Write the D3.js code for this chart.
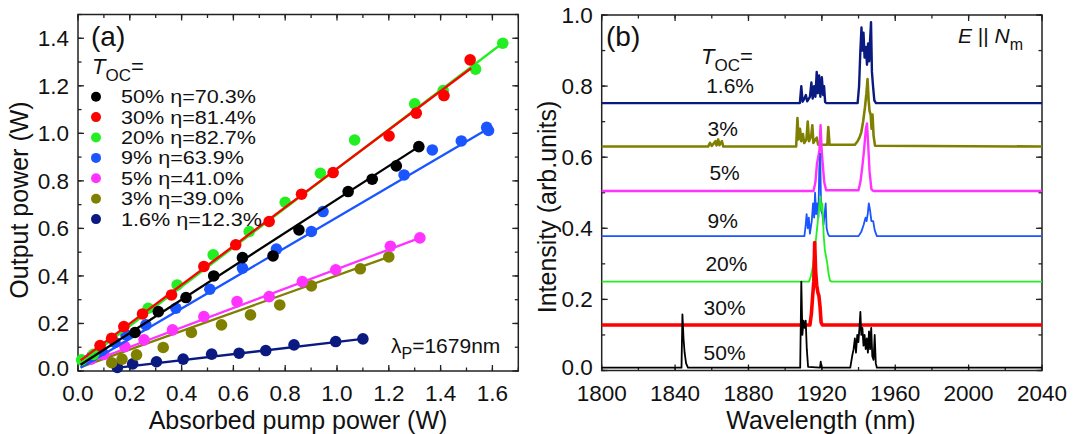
<!DOCTYPE html>
<html>
<head>
<meta charset="utf-8">
<script src="https://cdn.jsdelivr.net/npm/d3@7"></script>
<style>
  html, body { margin: 0; padding: 0; background: #fff; }
  svg { display: block; font-family: "Liberation Sans", Arial, sans-serif; }
</style>
</head>
<body>
<svg id="chart" width="1077" height="434"></svg>
<script>
// ---------------- Panel (a) data ----------------
const seriesNames = ["50%", "30%", "20%", "9%", "5%", "3%", "1.6%"];
const etaLabels = ["70.3%", "81.4%", "82.7%", "63.9%", "41.0%", "39.0%", "12.3%"];
const seriesColors = ["#000000", "#ff0000", "#22ee22", "#1a55ff", "#ff33ff", "#808000", "#0a1a80"];

const pts50 = [[0.22,0.162],[0.31,0.25],[0.417,0.309],[0.524,0.40],[0.635,0.477],[0.753,0.484],[0.853,0.594],[1.043,0.755],[1.136,0.807],[1.229,0.863],[1.316,0.944]];
const pts30 = [[0.085,0.107],[0.130,0.138],[0.177,0.187],[0.249,0.240],[0.361,0.320],[0.486,0.440],[0.609,0.531],[0.738,0.629],[0.863,0.744],[0.985,0.835],[1.201,0.989],[1.306,1.085],[1.413,1.159],[1.514,1.309]];
const pts20 = [[0.014,0.047],[0.06,0.07],[0.271,0.264],[0.383,0.362],[0.522,0.489],[0.661,0.587],[0.80,0.71],[0.936,0.832],[1.068,0.972],[1.300,1.124],[1.41,1.18],[1.535,1.270],[1.640,1.379]];
const pts9 = [[0.053,0.061],[0.091,0.086],[0.143,0.120],[0.185,0.152],[0.262,0.194],[0.378,0.264],[0.509,0.344],[0.635,0.433],[0.766,0.513],[0.901,0.587],[0.946,0.671],[1.259,0.825],[1.368,0.930],[1.480,0.968],[1.578,1.025],[1.585,1.012]];
const pts5 = [[0.05,0.05],[0.10,0.07],[0.181,0.103],[0.255,0.131],[0.365,0.173],[0.486,0.229],[0.614,0.292],[0.738,0.313],[0.866,0.376],[0.995,0.426],[1.206,0.525],[1.32,0.56]];
const pts3 = [[0.13,0.035],[0.17,0.05],[0.226,0.068],[0.329,0.099],[0.438,0.162],[0.554,0.194],[0.666,0.236],[0.779,0.278],[0.901,0.358],[1.09,0.43],[1.20,0.48]];
const pts16 = [[0.152,0.015],[0.211,0.030],[0.303,0.039],[0.406,0.050],[0.516,0.071],[0.622,0.075],[0.725,0.086],[0.834,0.110],[0.995,0.124],[1.10,0.135]];
const pointsA = [pts50, pts30, pts20, pts9, pts5, pts3, pts16];

// fitted line end points [x, y]
const fit50 = [[0.01,0.026],[1.316,0.944]];
const fit30 = [[0.01,0.045],[1.518,1.274]];
const fit20 = [[0.01,0.032],[1.640,1.380]];
const fit9  = [[0.01,0.014],[1.585,1.020]];
const fit5  = [[0.01,0.023],[1.32,0.560]];
const fit3  = [[0.01,0.016],[1.20,0.480]];
const fit16 = [[0.14,0.012],[1.10,0.135]];
const fitsA = [fit50, fit30, fit20, fit9, fit5, fit3, fit16];

const xTicksA = [0.0,0.2,0.4,0.6,0.8,1.0,1.2,1.4,1.6];
const yTicksA = [0.0,0.2,0.4,0.6,0.8,1.0,1.2,1.4];

// ---------------- Panel (b) data ----------------
const specLabels = ["1.6%", "3%", "5%", "9%", "20%", "30%", "50%"];
const specColors = ["#0a1a80", "#808000", "#ff33ff", "#1a55ff", "#22ee22", "#ff0000", "#000000"];
const spec16 = [[1800,0.752],[1908,0.752],[1908.8,0.80],[1909.5,0.756],[1910.5,0.765],[1911.3,0.775],[1912,0.757],[1913.5,0.77],[1914.3,0.81],[1915,0.765],[1915.8,0.80],[1916.5,0.77],[1917.2,0.84],[1917.8,0.78],[1918.5,0.83],[1919.2,0.77],[1920,0.825],[1920.7,0.775],[1921.2,0.80],[1921.8,0.755],[1922.5,0.752],[1939.5,0.752],[1940.3,0.80],[1941,0.90],[1941.6,0.965],[1942.1,0.90],[1942.7,0.95],[1943.3,0.88],[1944,0.91],[1944.6,0.86],[1945.2,0.92],[1945.8,0.87],[1946.3,0.93],[1946.8,0.98],[1947.3,0.84],[1947.9,0.80],[1948.6,0.76],[1949.5,0.752],[2040,0.752]];
const spec3 = [[1800,0.63],[1858,0.63],[1859,0.64],[1860,0.632],[1862,0.645],[1862.6,0.633],[1863.5,0.65],[1864.2,0.634],[1865.5,0.645],[1866.3,0.63],[1906,0.63],[1906.7,0.71],[1907.3,0.65],[1908.1,0.68],[1908.8,0.645],[1909.7,0.665],[1910.4,0.64],[1911.6,0.65],[1912.3,0.70],[1913,0.645],[1914.2,0.66],[1914.8,0.69],[1915.4,0.64],[1916.5,0.65],[1917.2,0.655],[1918,0.635],[1923,0.635],[1923.5,0.685],[1924.2,0.635],[1938,0.635],[1939.5,0.645],[1940.5,0.655],[1941.5,0.67],[1942.5,0.70],[1943.5,0.74],[1944.3,0.78],[1944.9,0.82],[1945.5,0.76],[1946,0.73],[1946.6,0.72],[1947.1,0.68],[1947.6,0.72],[1948.2,0.66],[1949,0.632],[2040,0.63]];
const spec5 = [[1800,0.505],[1915.5,0.505],[1916.5,0.53],[1917.3,0.58],[1918,0.60],[1918.7,0.62],[1919.3,0.69],[1919.9,0.62],[1920.5,0.58],[1921.3,0.53],[1922.3,0.507],[1940,0.507],[1941,0.53],[1942,0.57],[1943,0.62],[1944,0.68],[1944.6,0.695],[1945.3,0.63],[1946,0.56],[1947,0.51],[1948,0.505],[2040,0.505]];
const spec9 = [[1800,0.378],[1910.5,0.378],[1911.2,0.41],[1911.7,0.44],[1912.3,0.40],[1912.9,0.43],[1913.5,0.385],[1914.5,0.42],[1915.2,0.47],[1915.8,0.43],[1916.3,0.50],[1916.9,0.44],[1917.5,0.47],[1918.1,0.43],[1918.6,0.57],[1919.1,0.61],[1919.6,0.45],[1920.3,0.44],[1920.9,0.41],[1921.5,0.44],[1922.1,0.47],[1922.6,0.40],[1923.3,0.385],[1924,0.378],[1940,0.378],[1941.5,0.39],[1942.8,0.41],[1943.8,0.43],[1944.4,0.42],[1945,0.44],[1945.6,0.47],[1946.3,0.45],[1947,0.42],[1948,0.42],[1948.8,0.395],[1950,0.378],[2040,0.378]];
const spec20 = [[1800,0.25],[1913,0.25],[1914,0.265],[1915,0.29],[1916,0.33],[1917,0.38],[1917.8,0.42],[1918.5,0.46],[1919.1,0.49],[1919.7,0.45],[1920.3,0.47],[1921,0.38],[1921.6,0.34],[1922.3,0.32],[1923,0.30],[1923.7,0.27],[1924.5,0.252],[1925.5,0.25],[2040,0.25]];
const spec30 = [[1800,0.128],[1913.5,0.128],[1914.3,0.16],[1915,0.21],[1915.6,0.25],[1916.1,0.36],[1916.6,0.28],[1917.2,0.24],[1917.8,0.22],[1918.4,0.21],[1919,0.18],[1919.6,0.135],[1920.3,0.128],[2040,0.128]];
const spec50 = [[1800,0.008],[1843.5,0.008],[1844,0.158],[1844.6,0.09],[1845.2,0.05],[1846,0.02],[1847,0.008],[1908.2,0.008],[1908.8,0.25],[1909.4,0.10],[1910,0.14],[1910.6,0.12],[1911.2,0.14],[1911.8,0.06],[1912.5,0.01],[1919,0.008],[1919.4,0.025],[1919.8,0.008],[1935.5,0.008],[1936.5,0.04],[1937.3,0.06],[1938,0.09],[1938.6,0.05],[1939.3,0.10],[1939.9,0.08],[1940.5,0.12],[1941,0.165],[1941.5,0.10],[1942.1,0.12],[1942.7,0.07],[1943.3,0.10],[1943.9,0.06],[1944.5,0.09],[1945.1,0.05],[1945.7,0.11],[1946.3,0.06],[1946.9,0.12],[1947.5,0.04],[1948.2,0.03],[1948.8,0.10],[1949.4,0.02],[1950,0.008],[2040,0.008]];
const spectra = [spec16, spec3, spec5, spec9, spec20, spec30, spec50];
// label anchor positions [wavelength, intensity] for the T_OC value labels
const specLabelPos = [[1870,0.78],[1866,0.66],[1867,0.535],[1866,0.402],[1868,0.28],[1867,0.155],[1867,0.03]];
const noiseWidth = [2.4, 2.6, 2.4, 1.8, 1.8, 3.6, 1.8];

const xTicksB = [1800,1840,1880,1920,1960,2000,2040];
const yTicksB = [0.0,0.2,0.4,0.6,0.8,1.0];

// ---------------- Drawing ----------------
const svg = d3.select("#chart");
const axisColor = "#222";

function frame(g, x, y, xMajor, xMinor, yMajor, yMinor, xFmt, yFmt) {
  const [x0, x1] = x.range();
  const [y0, y1] = y.range(); // y0 bottom, y1 top
  const maj = 6, mnr = 3.5;
  const tk = g.append("g").attr("stroke", axisColor).attr("stroke-width", 1.3);
  xMinor.forEach(v => {
    const px = x(v);
    tk.append("line").attr("x1", px).attr("x2", px).attr("y1", y0).attr("y2", y0 - mnr);
    tk.append("line").attr("x1", px).attr("x2", px).attr("y1", y1).attr("y2", y1 + mnr);
  });
  xMajor.forEach(v => {
    const px = x(v);
    tk.append("line").attr("x1", px).attr("x2", px).attr("y1", y0).attr("y2", y0 - maj);
    tk.append("line").attr("x1", px).attr("x2", px).attr("y1", y1).attr("y2", y1 + maj);
  });
  yMinor.forEach(v => {
    const py = y(v);
    tk.append("line").attr("x1", x0).attr("x2", x0 + mnr).attr("y1", py).attr("y2", py);
    tk.append("line").attr("x1", x1).attr("x2", x1 - mnr).attr("y1", py).attr("y2", py);
  });
  yMajor.forEach(v => {
    const py = y(v);
    tk.append("line").attr("x1", x0).attr("x2", x0 + maj).attr("y1", py).attr("y2", py);
    tk.append("line").attr("x1", x1).attr("x2", x1 - maj).attr("y1", py).attr("y2", py);
  });
  g.append("rect").attr("x", x0).attr("y", y1).attr("width", x1 - x0).attr("height", y0 - y1)
    .attr("fill", "none").attr("stroke", axisColor).attr("stroke-width", 1.5);
  const lab = g.append("g").attr("font-size", 22.5).attr("fill", "#111");
  xMajor.forEach(v => {
    lab.append("text").attr("x", x(v)).attr("y", 400.5).attr("text-anchor", "middle").text(xFmt(v));
  });
  yMajor.forEach(v => {
    lab.append("text").attr("x", x0 - 9).attr("y", y(v) + (v === 0 ? 4.5 : 7.8))
      .attr("text-anchor", "end").text(yFmt(v));
  });
}

// ---- Panel (a)
const xA = d3.scaleLinear().domain([0, 1.7]).range([78, 518.3]);
const yA = d3.scaleLinear().domain([0, 1.5]).range([371, 14.5]);
const gA = svg.append("g");
const minorA = d3.range(0, 1.71, 0.1).map(v => +v.toFixed(2));
const minorAy = d3.range(0, 1.51, 0.1).map(v => +v.toFixed(2));
frame(gA, xA, yA, xTicksA, minorA, yTicksA, minorAy, d3.format(".1f"), d3.format(".1f"));

const plotA = gA.append("g");
const lineGen = d3.line().x(d => xA(d[0])).y(d => yA(d[1]));
for (let i = pointsA.length - 1; i >= 0; i--) {
  plotA.append("g").selectAll("circle").data(pointsA[i]).join("circle")
    .attr("cx", d => xA(d[0])).attr("cy", d => yA(d[1])).attr("r", 5.8)
    .attr("fill", seriesColors[i]);
  plotA.append("path").datum(fitsA[i]).attr("d", lineGen)
    .attr("fill", "none").attr("stroke", seriesColors[i]).attr("stroke-width", 2.3);
}

// labels panel a
gA.append("text").attr("x", 91).attr("y", 46).attr("font-size", 28).attr("fill", "#111").text("(a)");
const toA = gA.append("text").attr("x", 92).attr("y", 74).attr("font-size", 22).attr("fill", "#111");
toA.append("tspan").attr("font-style", "italic").text("T");
toA.append("tspan").attr("dy", 7).attr("font-size", 17).text("OC");
toA.append("tspan").attr("dy", -7).text("=");

// legend: symbols + text rows (text slightly widened like the original)
const legA = gA.append("g");
const legY0 = 96.7, legStep = 20.4;
seriesNames.forEach((s, i) => {
  legA.append("circle").attr("cx", 96).attr("cy", legY0 + i * legStep).attr("r", 5).attr("fill", seriesColors[i]);
});
const legTextG = legA.append("g").attr("transform", "translate(121,0) scale(1.2,1)");
seriesNames.forEach((s, i) => {
  legTextG.append("text").attr("x", 0).attr("y", legY0 + i * legStep + 6.5)
    .attr("font-size", 18).attr("fill", "#111")
    .text(s + " \u03b7=" + etaLabels[i]);
});

const lamT = gA.append("text").attr("x", 391).attr("y", 353).attr("font-size", 21).attr("fill", "#111");
lamT.append("tspan").text("\u03bb");
lamT.append("tspan").attr("dy", 6).attr("font-size", 16).text("P");
lamT.append("tspan").attr("dy", -6).text("=1679nm");

gA.append("text").attr("x", 298).attr("y", 428.5).attr("text-anchor", "middle").attr("font-size", 25)
  .attr("fill", "#111").text("Absorbed pump power (W)");
gA.append("text").attr("transform", "translate(28,200) rotate(-90)").attr("text-anchor", "middle")
  .attr("font-size", 25).attr("fill", "#111").text("Output power (W)");

// ---- Panel (b)
const xB = d3.scaleLinear().domain([1800, 2040]).range([601.7, 1042]);
const yB = d3.scaleLinear().domain([0, 1]).range([370.5, 15]);
const gB = svg.append("g");
const minorB = d3.range(1800, 2041, 20);
const minorBy = d3.range(0, 1.01, 0.1).map(v => +v.toFixed(2));
frame(gB, xB, yB, xTicksB, minorB, yTicksB, minorBy, d3.format("d"), d3.format(".1f"));

const lineB = d3.line().x(d => xB(d[0])).y(d => yB(d[1]));
const plotB = gB.append("g");
spectra.forEach((sp, i) => {
  plotB.append("path").datum(sp).attr("d", lineB).attr("fill", "none")
    .attr("stroke", specColors[i]).attr("stroke-width", noiseWidth[i]).attr("stroke-linejoin", "round");
});
specLabels.forEach((s, i) => {
  gB.append("text").attr("x", xB(specLabelPos[i][0])).attr("y", yB(specLabelPos[i][1]))
    .attr("text-anchor", "middle").attr("font-size", 21).attr("fill", "#111").text(s);
});
gB.append("text").attr("x", 606).attr("y", 46).attr("font-size", 28).attr("fill", "#111").text("(b)");
const toB = gB.append("text").attr("x", 701).attr("y", 64).attr("font-size", 22).attr("fill", "#111");
toB.append("tspan").attr("font-style", "italic").text("T");
toB.append("tspan").attr("dy", 7).attr("font-size", 17).text("OC");
toB.append("tspan").attr("dy", -7).text("=");
const eN = gB.append("text").attr("x", 958).attr("y", 43).attr("font-size", 21).attr("fill", "#111");
eN.append("tspan").attr("font-style", "italic").text("E");
eN.append("tspan").text(" || ");
eN.append("tspan").attr("font-style", "italic").text("N");
eN.append("tspan").attr("dy", 7).attr("font-size", 16).text("m");

gB.append("text").attr("x", 821).attr("y", 428.5).attr("text-anchor", "middle").attr("font-size", 25)
  .attr("fill", "#111").text("Wavelength (nm)");
gB.append("text").attr("transform", "translate(556,207) rotate(-90)").attr("text-anchor", "middle")
  .attr("font-size", 25).attr("fill", "#111").text("Intensity (arb.units)");
</script>
</body>
</html>
